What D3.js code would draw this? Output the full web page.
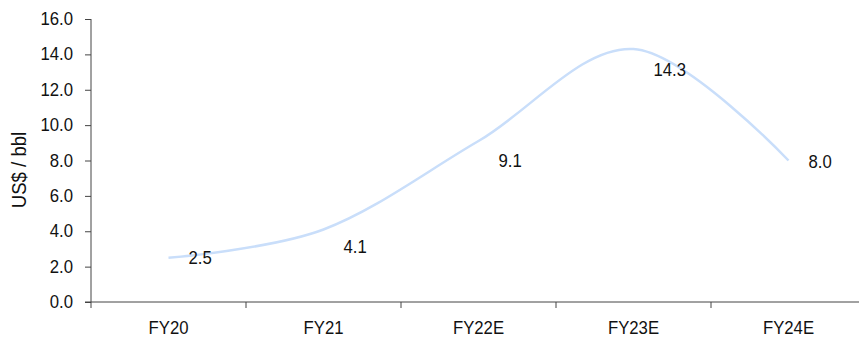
<!DOCTYPE html>
<html>
<head>
<meta charset="utf-8">
<script src="https://cdn.jsdelivr.net/npm/d3@7"></script>
<style>
  body { margin: 0; background: #fff; }
  svg text { font-family: "Liberation Sans", Arial, sans-serif; fill: #111; }
</style>
</head>
<body>
<div id="chart"></div>
<script>
// data
var categories  = ["FY20", "FY21", "FY22E", "FY23E", "FY24E"];
var values      = [2.5, 4.1, 9.1, 14.3, 8.0];
var yTicks      = [0, 2, 4, 6, 8, 10, 12, 14, 16];

// chart size
var chart_width  = 859;
var chart_height = 341;
var plot_left = 91, plot_top = 19, plot_bottom = 302;
var fs = 18, sx = 0.93;   // font size, horizontal squeeze for the narrow look

var svg = d3.select("#chart")
  .append("svg")
  .attr("width", chart_width)
  .attr("height", chart_height);

// scales
var x_scale = d3.scaleBand()
  .domain(categories)
  .range([plot_left, plot_left + 155 * categories.length]);

var y_scale = d3.scaleLinear()
  .domain([0, 16])
  .range([plot_bottom, plot_top]);

// narrow text helper
function narrowText(sel, x, y, anchor) {
  return sel.append("text")
    .attr("transform", "translate(" + x + "," + y + ") scale(" + sx + ",1)")
    .attr("text-anchor", anchor)
    .attr("font-size", fs);
}

// y axis
var yAxis = svg.append("g")
  .attr("transform", "translate(" + plot_left + ",0)")
  .call(d3.axisLeft(y_scale).tickValues(yTicks).tickSize(6).tickFormat(""));
yAxis.select(".domain").attr("stroke", "#444").attr("d", "M0," + plot_top + "V" + plot_bottom);
yAxis.selectAll(".tick line").attr("stroke", "#444");
yTicks.forEach((t) => {
  narrowText(svg, plot_left - 18, y_scale(t) + 6, "end").text(d3.format(".1f")(t));
});

// x axis - ticks on category boundaries
var xAxis = svg.append("g")
  .attr("transform", "translate(0," + plot_bottom + ")");
xAxis.append("line")
  .attr("x1", plot_left - 6).attr("x2", chart_width)
  .attr("stroke", "#444");
xAxis.selectAll(".bound")
  .data(categories)
  .enter()
  .append("line")
  .attr("x1", (d) => x_scale(d)).attr("x2", (d) => x_scale(d))
  .attr("y1", 0).attr("y2", 6)
  .attr("stroke", "#444");
categories.forEach((c) => {
  narrowText(xAxis, x_scale(c) + x_scale.bandwidth() / 2, 32, "middle").text(c);
});

// y label
svg.append("text")
  .attr("transform", "translate(26,170) rotate(-90) scale(" + sx + ",1)")
  .attr("text-anchor", "middle")
  .attr("font-size", 20)
  .text("US$ / bbl");

// line
var line = d3.line()
  .x((d, i) => x_scale(categories[i]) + x_scale.bandwidth() / 2)
  .y((d) => y_scale(d))
  .curve(d3.curveCardinal.tension(0));

svg.append("path")
  .datum(values)
  .attr("d", line)
  .attr("fill", "none")
  .attr("stroke", "#c9defa")
  .attr("stroke-width", 2.5);

// value labels
var labelDy = [6, 24, 26, 27, 7];
values.forEach((v, i) => {
  narrowText(svg, x_scale(categories[i]) + x_scale.bandwidth() / 2 + 20, y_scale(v) + labelDy[i], "start")
    .text(v.toFixed(1));
});
</script>
</body>
</html>
